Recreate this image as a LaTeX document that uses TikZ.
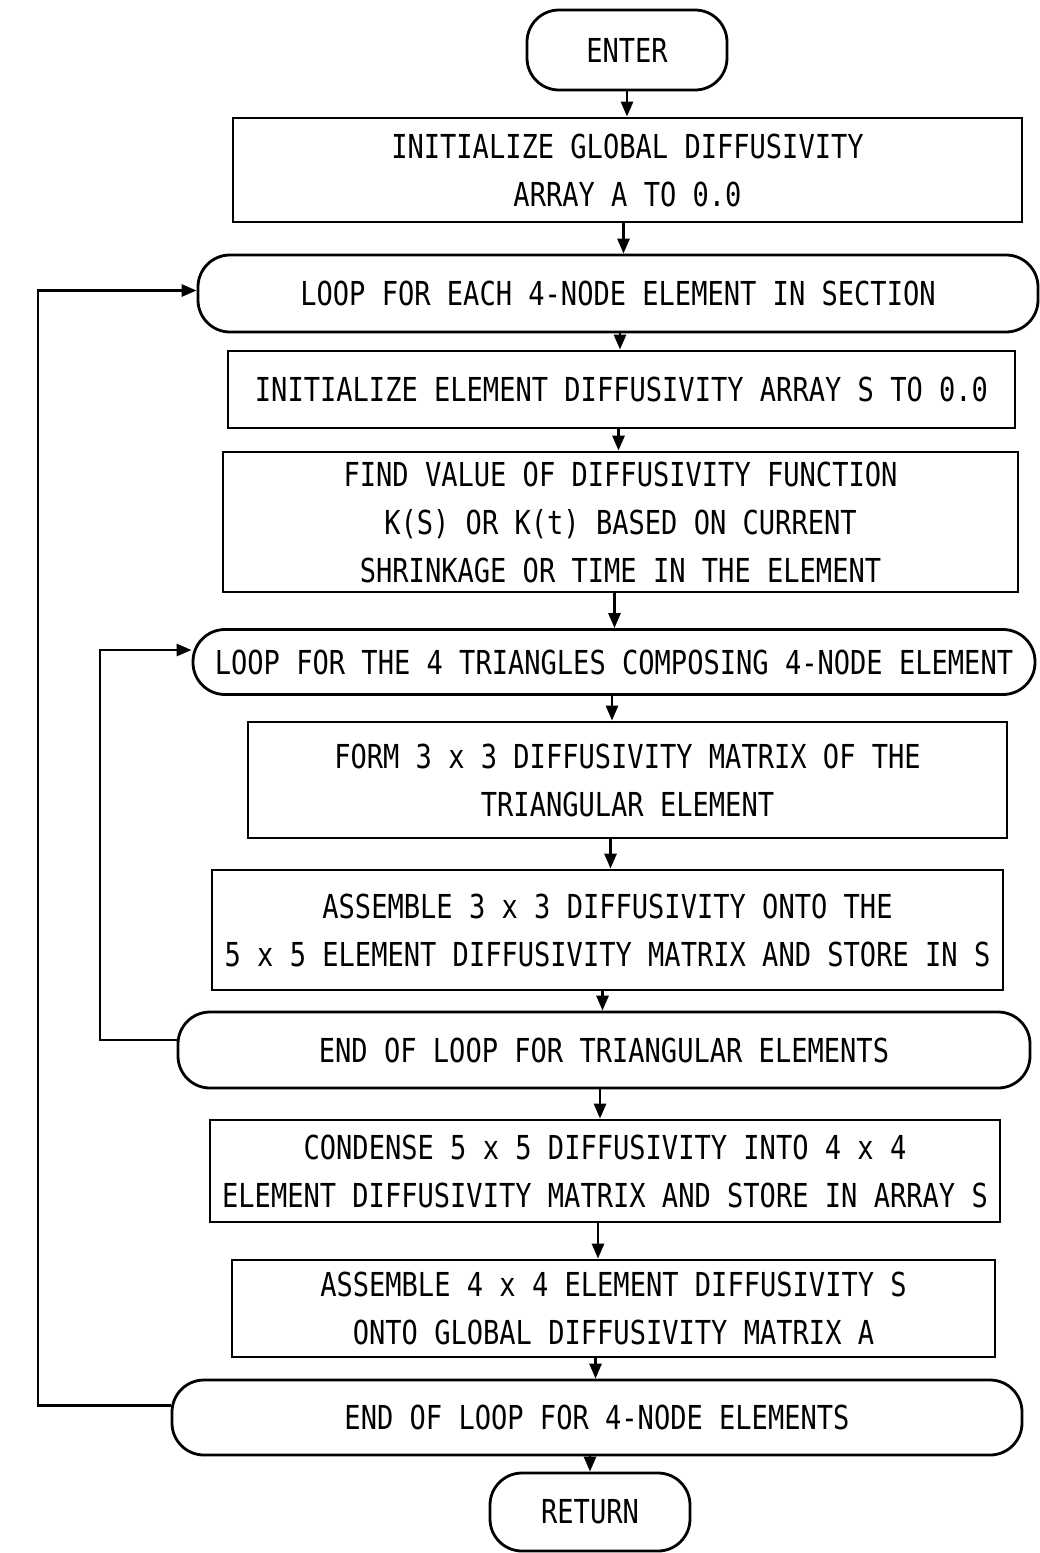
\documentclass[tikz,border=0pt]{standalone}
\usepackage{fontspec}
\usetikzlibrary{arrows.meta}
\newfontfamily\fcfont[FakeStretch=0.82]{DejaVu Sans Mono}
\begin{document}
\begin{tikzpicture}[x=1pt,y=-1pt,
  every node/.style={font=\fcfont\fontsize{33}{48}\selectfont, align=center, inner sep=0pt},
  boxnode/.style={draw, line width=2.8pt, rectangle},
  term/.style={draw, line width=2.8pt, rectangle, rounded corners=32pt},
  arr/.style={line width=2.8pt, -{Triangle[length=15pt,width=12pt]}},
  wire/.style={line width=2.8pt}]
\useasboundingbox (0,0) rectangle (1040,1553);
% nodes
\node[term, minimum width=200pt, minimum height=80pt] (enter) at (627,50) {ENTER};
\node[boxnode, minimum width=789pt, minimum height=104pt] (b1) at (627.5,170)
  {INITIALIZE GLOBAL DIFFUSIVITY\\ARRAY A TO 0.0};
\node[term, minimum width=840pt, minimum height=77pt] (loop1) at (618,293.5)
  {LOOP FOR EACH 4-NODE ELEMENT IN SECTION};
\node[boxnode, minimum width=787pt, minimum height=77pt] (b2) at (621.5,389.5)
  {INITIALIZE ELEMENT DIFFUSIVITY ARRAY S TO 0.0};
\node[boxnode, minimum width=795pt, minimum height=140pt] (b3) at (620.5,522)
  {FIND VALUE OF DIFFUSIVITY FUNCTION\\K(S) OR K(t) BASED ON CURRENT\\SHRINKAGE OR TIME IN THE ELEMENT};
\node[term, minimum width=842pt, minimum height=65pt] (loop2) at (614,662)
  {LOOP FOR THE 4 TRIANGLES COMPOSING 4-NODE ELEMENT};
\node[boxnode, minimum width=759pt, minimum height=116pt] (b4) at (627.5,780)
  {FORM 3 x 3 DIFFUSIVITY MATRIX OF THE\\TRIANGULAR ELEMENT};
\node[boxnode, minimum width=791pt, minimum height=120pt] (b5) at (607.5,930)
  {ASSEMBLE 3 x 3 DIFFUSIVITY ONTO THE\\5 x 5 ELEMENT DIFFUSIVITY MATRIX AND STORE IN S};
\node[term, minimum width=852pt, minimum height=76pt] (le1) at (604,1050)
  {END OF LOOP FOR TRIANGULAR ELEMENTS};
\node[boxnode, minimum width=790pt, minimum height=102pt] (b6) at (605,1171)
  {CONDENSE 5 x 5 DIFFUSIVITY INTO 4 x 4\\ELEMENT DIFFUSIVITY MATRIX AND STORE IN ARRAY S};
\node[boxnode, minimum width=763pt, minimum height=97pt] (b7) at (613.5,1308.5)
  {ASSEMBLE 4 x 4 ELEMENT DIFFUSIVITY S\\ONTO GLOBAL DIFFUSIVITY MATRIX A};
\node[term, minimum width=850pt, minimum height=75pt] (le2) at (597,1417.5)
  {END OF LOOP FOR 4-NODE ELEMENTS};
\node[term, minimum width=200pt, minimum height=78pt] (ret) at (590,1512) {RETURN};
% vertical connectors
\draw[arr] (enter.south) -- (enter.south |- b1.north);
\draw[arr] ([xshift=-4pt]b1.south) -- ([xshift=-4pt]b1.south |- loop1.north);
\draw[arr] ([xshift=2pt]loop1.south) -- ([xshift=2pt]loop1.south |- b2.north);
\draw[arr] ([xshift=-3pt]b2.south) -- ([xshift=-3pt]b2.south |- b3.north);
\draw[arr] ([xshift=-6pt]b3.south) -- ([xshift=-6pt]b3.south |- loop2.north);
\draw[arr] ([xshift=-2pt]loop2.south) -- ([xshift=-2pt]loop2.south |- b4.north);
\draw[arr] ([xshift=-17pt]b4.south) -- ([xshift=-17pt]b4.south |- b5.north);
\draw[arr] ([xshift=-5pt]b5.south) -- ([xshift=-5pt]b5.south |- le1.north);
\draw[arr] ([xshift=-4pt]le1.south) -- ([xshift=-4pt]le1.south |- b6.north);
\draw[arr] ([xshift=-7pt]b6.south) -- ([xshift=-7pt]b6.south |- b7.north);
\draw[arr] ([xshift=-18pt]b7.south) -- ([xshift=-18pt]b7.south |- le2.north);
\draw[arr] ([xshift=-7pt]le2.south) -- ([xshift=-7pt]le2.south |- ret.north);
% loop-back connectors
\coordinate (innerx) at (100,0);
\coordinate (outerx) at (38,0);
\draw[arr] ([yshift=10pt]le1.west) -- ([yshift=10pt]le1.west -| innerx) |- ([yshift=12pt]loop2.west);
\draw[arr] ([yshift=12pt]le2.west) -- ([yshift=12pt]le2.west -| outerx) |- ([yshift=3pt]loop1.west);
\end{tikzpicture}
\end{document}
